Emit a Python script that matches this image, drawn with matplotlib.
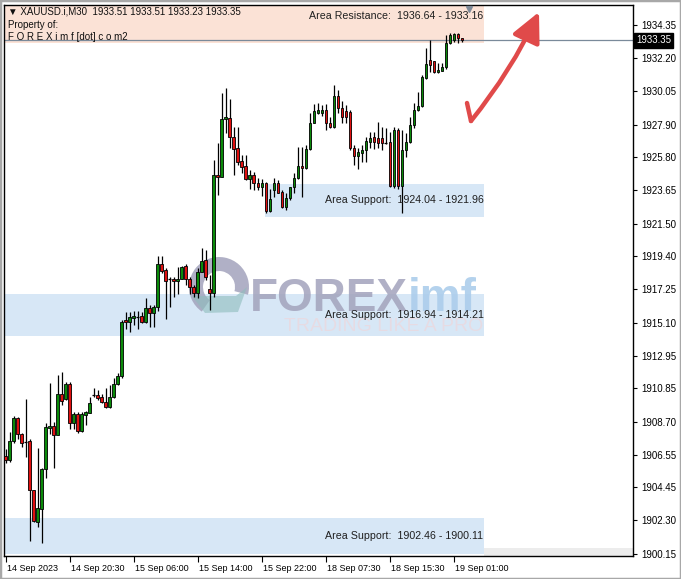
import numpy as np
import matplotlib.pyplot as plt
from matplotlib.patches import Rectangle, Wedge, Polygon, FancyArrowPatch
from matplotlib.transforms import blended_transform_factory, ScaledTranslation, IdentityTransform

plt.rcParams['font.family'] = ['Liberation Sans', 'DejaVu Sans']

# -- XAUUSD.i M30 candles --
opens = [1906.45, 1906.18, 1907.44, 1908.93, 1907.90, 1907.38, 1907.44, 1904.27, 1902.20, 1903.04,
         1905.63, 1908.28, 1908.41, 1907.83, 1910.48, 1910.16, 1911.13, 1908.61, 1909.19, 1908.09,
         1909.12, 1909.25, 1910.42, 1910.42, 1910.29, 1909.97, 1909.64, 1910.29, 1911.13, 1911.65,
         1915.27, 1915.14, 1915.40, 1915.46, 1915.53, 1915.14, 1916.05, 1915.72, 1916.11, 1918.89,
         1918.50, 1917.92, 1917.92, 1917.79, 1917.92, 1918.76, 1917.92, 1917.40, 1917.02, 1918.38,
         1919.15, 1917.27, 1917.02, 1924.65, 1924.52, 1928.27, 1928.33, 1927.11, 1926.39, 1925.55,
         1925.23, 1924.39, 1924.65, 1924.13, 1923.87, 1924.13, 1922.32, 1923.68, 1924.13, 1923.55,
         1922.58, 1923.16, 1923.87, 1924.45, 1925.23, 1925.10, 1926.33, 1928.01, 1928.66, 1928.66,
         1928.85, 1928.01, 1927.75, 1929.76, 1928.98, 1928.79, 1928.72, 1926.39, 1925.88, 1926.07,
         1926.27, 1926.78, 1927.11, 1927.04, 1927.04, 1926.72, 1926.78, 1923.94, 1927.56, 1923.94,
         1926.27, 1926.78, 1927.88, 1928.85, 1929.11, 1930.92, 1932.09, 1932.02, 1931.31, 1931.37,
         1931.63, 1933.19, 1933.38, 1933.77, 1933.51]
highs = [1906.93, 1908.03, 1909.06, 1909.00, 1907.96, 1910.16, 1907.57, 1904.30, 1906.99, 1905.70,
         1908.61, 1911.19, 1908.67, 1911.71, 1911.91, 1911.26, 1911.26, 1909.32, 1909.32, 1909.32,
         1909.38, 1910.29, 1910.87, 1910.74, 1910.48, 1910.87, 1911.07, 1911.52, 1911.85, 1915.27,
         1915.79, 1915.79, 1915.85, 1915.85, 1915.79, 1916.69, 1916.24, 1916.24, 1919.41, 1919.41,
         1918.63, 1918.05, 1918.05, 1918.70, 1918.76, 1918.89, 1918.05, 1917.53, 1918.63, 1919.93,
         1919.80, 1918.18, 1925.62, 1926.72, 1929.95, 1930.28, 1929.56, 1927.75, 1927.75, 1925.94,
         1925.94, 1924.97, 1924.84, 1924.45, 1924.39, 1924.20, 1923.74, 1924.45, 1924.32, 1923.68,
         1923.48, 1923.90, 1924.78, 1926.46, 1926.46, 1926.59, 1928.66, 1929.24, 1929.30, 1929.17,
         1929.24, 1928.40, 1930.47, 1930.15, 1929.43, 1929.17, 1928.85, 1926.59, 1926.39, 1926.59,
         1927.11, 1927.43, 1927.43, 1928.08, 1927.75, 1927.69, 1927.43, 1927.75, 1927.69, 1927.56,
         1927.36, 1928.40, 1929.30, 1930.02, 1931.12, 1932.86, 1933.38, 1932.05, 1931.89, 1931.89,
         1933.70, 1933.83, 1933.83, 1933.80, 1933.51]
lows = [1906.02, 1906.08, 1907.31, 1907.57, 1907.05, 1906.41, 1900.98, 1902.20, 1901.88, 1900.85,
        1905.05, 1907.90, 1905.70, 1907.80, 1909.77, 1910.10, 1908.22, 1908.22, 1907.96, 1908.05,
        1908.48, 1909.22, 1910.29, 1910.10, 1909.90, 1909.60, 1909.60, 1910.25, 1911.07, 1911.52,
        1914.69, 1914.49, 1914.95, 1914.69, 1915.08, 1915.08, 1914.82, 1914.82, 1915.85, 1918.31,
        1915.33, 1916.11, 1916.76, 1916.95, 1917.90, 1917.53, 1916.95, 1916.76, 1916.69, 1918.35,
        1917.86, 1915.92, 1916.76, 1923.35, 1924.50, 1927.36, 1926.39, 1924.65, 1925.29, 1924.78,
        1924.32, 1923.74, 1923.68, 1923.68, 1923.29, 1922.19, 1922.26, 1923.23, 1923.45, 1922.51,
        1922.38, 1923.03, 1923.48, 1924.40, 1923.23, 1925.04, 1926.27, 1927.98, 1928.60, 1928.46,
        1927.56, 1927.69, 1927.69, 1928.66, 1928.01, 1928.01, 1926.27, 1925.29, 1925.04, 1925.49,
        1925.49, 1926.39, 1926.33, 1926.39, 1926.27, 1926.65, 1923.87, 1923.81, 1923.74, 1922.19,
        1925.81, 1926.72, 1927.69, 1928.79, 1929.05, 1930.86, 1931.31, 1931.25, 1931.25, 1931.35,
        1931.50, 1933.12, 1933.25, 1933.19, 1933.23]
closes = [1906.20, 1907.44, 1908.93, 1907.90, 1907.31, 1907.36, 1904.27, 1902.27, 1903.11, 1905.63,
          1908.35, 1908.41, 1907.83, 1910.48, 1910.03, 1911.13, 1908.61, 1909.19, 1908.09, 1909.19,
          1909.32, 1909.90, 1910.44, 1910.22, 1909.97, 1909.64, 1910.29, 1911.13, 1911.65, 1915.14,
          1915.14, 1915.46, 1915.53, 1915.47, 1915.14, 1916.05, 1915.72, 1916.11, 1918.89, 1918.44,
          1917.79, 1917.90, 1917.79, 1917.92, 1918.70, 1917.92, 1917.40, 1917.02, 1918.38, 1919.09,
          1918.05, 1917.02, 1924.65, 1924.52, 1928.27, 1928.40, 1927.11, 1926.33, 1925.49, 1925.17,
          1924.39, 1924.65, 1924.13, 1923.87, 1924.13, 1922.32, 1923.10, 1924.13, 1923.48, 1922.58,
          1923.16, 1923.87, 1924.45, 1925.23, 1925.10, 1926.33, 1928.01, 1928.79, 1928.85, 1928.85,
          1928.01, 1927.75, 1929.76, 1928.98, 1928.40, 1928.40, 1926.39, 1925.88, 1926.14, 1926.27,
          1926.85, 1927.04, 1926.78, 1926.72, 1926.72, 1926.70, 1923.94, 1927.56, 1923.94, 1926.27,
          1926.78, 1927.88, 1928.85, 1929.11, 1930.99, 1931.83, 1931.76, 1931.31, 1931.44, 1931.63,
          1933.19, 1933.70, 1933.77, 1933.51, 1933.35]

last_price = 1933.35

# support / resistance boxes (price range, first and last bar they cover)
zone_hi = [1936.64, 1924.04, 1916.94, 1902.46]
zone_lo = [1933.16, 1921.96, 1914.21, 1900.11]
zone_from = [-2, 64.8, -2, -2]
zone_to = 119.6
zone_names = ['Area Resistance', 'Area Support', 'Area Support', 'Area Support']
zone_colors = ['#FBE2D6', '#D7E7F6', '#D7E7F6', '#D7E7F6']

ytick_vals = [1934.35, 1932.20, 1930.05, 1927.90, 1925.80, 1923.65, 1921.50, 1919.40, 1917.25,
              1915.10, 1912.95, 1910.85, 1908.70, 1906.55, 1904.45, 1902.30, 1900.15]
xtick_bars = [0, 16, 32, 48, 64, 80, 96, 112]
xtick_labels = ['14 Sep 2023', '14 Sep 20:30', '15 Sep 06:00', '15 Sep 14:00',
                '15 Sep 22:00', '18 Sep 07:30', '18 Sep 15:30', '19 Sep 01:00']

W, H = 681, 579
fig = plt.figure(figsize=(W / 100, H / 100), dpi=100)
ax = fig.add_axes([4.3 / W, 1 - 555.7 / H, (633 - 4.3) / W, (555.7 - 4.7) / H])
ax.set_xlim(-0.35, 156.8)
ax.set_ylim(1900.02, 1935.66)

# -- zones --
for hi, lo, x0, nm, col in zip(zone_hi, zone_lo, zone_from, zone_names, zone_colors):
    ax.add_patch(Rectangle((x0, lo), zone_to - x0, hi - lo, facecolor=col, edgecolor='none', zorder=1))
    ymid = (hi + lo) / 2
    ax.text(zone_to - 0.2, ymid, f'{nm}:  {hi:.2f} - {lo:.2f}', ha='right', va='center',
            fontsize=7.7, color='#202020', zorder=5)

# faint band at the bottom right
ax.add_patch(Rectangle((zone_to, 1900.02), 156.8 - zone_to, 0.5, facecolor='#ECECEC',
                       edgecolor='none', zorder=1))

# -- watermark (pixel coords) --
def d(px, py):
    return (px, H - py)

idt = IdentityTransform()
ax.add_patch(Wedge(d(219, 287), 30, -15, 235, width=14, facecolor='#A3A3BC', alpha=0.85,
                   edgecolor='none', transform=idt, zorder=1.5))
ax.add_patch(Polygon([d(192, 296), d(236, 296), d(247, 287), d(238, 312), d(205, 313)],
                     closed=True, facecolor='#8FBDBD', alpha=0.6, edgecolor='none',
                     transform=idt, zorder=1.5))
ax.text(250 / W, 1 - 311 / H, 'FOREX', transform=fig.transFigure, fontsize=33, fontweight='bold',
        color='#A3A3BC', alpha=0.85, ha='left', va='baseline', zorder=1.6)
ax.text(408 / W, 1 - 311 / H, 'imf', transform=fig.transFigure, fontsize=33, fontweight='bold',
        color='#ACCDEB', alpha=0.9, ha='left', va='baseline', zorder=1.6)
ax.text(284 / W, 1 - 331 / H, 'TRADING LIKE A PRO', transform=fig.transFigure, fontsize=14,
        color='#EBD9DF', alpha=0.8, ha='left', va='baseline', zorder=1.6)

# -- last price line --
ax.axhline(last_price, color='#7A8A9A', lw=0.9, zorder=2)

# -- candles --
x = np.arange(len(opens))
o = np.array(opens)
h = np.array(highs)
l = np.array(lows)
c = np.array(closes)
ax.vlines(x, l, h, color='black', lw=0.9, zorder=3)
up = c >= o
body = np.abs(c - o)
flat = body < 0.06
for mask, col in [(up & ~flat, '#0A8A0A'), (~up & ~flat, '#E01010')]:
    ax.bar(x[mask], body[mask], bottom=np.minimum(o, c)[mask], width=0.62, color=col,
           edgecolor='black', linewidth=0.6, zorder=4)
ax.hlines(o[flat], x[flat] - 0.4, x[flat] + 0.4, color='black', lw=0.9, zorder=4)

# -- red check arrow --
red = '#E04A4A'
ax.plot([d(467, 103)[0], d(471, 121)[0]], [d(467, 103)[1], d(471, 121)[1]], color=red,
        lw=3.2, solid_capstyle='round', transform=idt, zorder=6)
ax.add_patch(FancyArrowPatch(d(471, 121), d(539, 12), transform=idt,
                             arrowstyle='-|>,head_length=4.5,head_width=2.2',
                             mutation_scale=4, color=red, lw=3.2, capstyle='round',
                             connectionstyle='arc3,rad=0.06',
                             shrinkA=0, shrinkB=0, zorder=6))

# shift marker at the top
ax.plot([115.8], [0.993], marker='v', ms=5, color='#7D8A99', mec='#7D8A99',
        transform=blended_transform_factory(ax.transData, ax.transAxes), clip_on=False, zorder=6)

# -- axes styling --
for s in ax.spines.values():
    s.set_color('black')
    s.set_linewidth(1)
ax.yaxis.tick_right()
ax.set_yticks(ytick_vals)
ax.set_yticklabels([f'{v:.2f}' for v in ytick_vals])
ax.tick_params(axis='y', length=3, width=0.8, pad=3, labelsize=7, colors='black')
ax.set_xticks(xtick_bars)
ax.set_xticklabels(xtick_labels)
ax.tick_params(axis='x', length=4, width=0.8, pad=2, labelsize=6.5, colors='black')
for lab in ax.get_xticklabels():
    lab.set_ha('left')
    lab.set_transform(lab.get_transform() + ScaledTranslation(1.5 / 100, 0, fig.dpi_scale_trans))

ax.text(1.0, last_price, '1933.35', transform=blended_transform_factory(ax.transAxes, ax.transData)
        + ScaledTranslation(3 / 100, 0, fig.dpi_scale_trans),
        ha='left', va='center', fontsize=7, color='white', zorder=7, clip_on=False,
        bbox=dict(boxstyle='square,pad=0.25', facecolor='black', edgecolor='black'))

# header texts
fig.text(8 / W, 1 - 11 / H, '\u25bc XAUUSD.i,M30  1933.51 1933.51 1933.23 1933.35', fontsize=7,
         va='center', color='#101010')
fig.text(8 / W, 1 - 25 / H, 'Property of:', fontsize=7, va='center', color='#101010')
fig.text(8 / W, 1 - 37 / H, 'F O R E X i m f [dot] c o m2', fontsize=7, va='center', color='#101010')

# window frame
fig.patches.append(Rectangle((0, 0), 1, 1, transform=fig.transFigure, fill=False,
                             edgecolor='#A8A8A8', lw=2.5))

fig.savefig('out.png', dpi=100)
